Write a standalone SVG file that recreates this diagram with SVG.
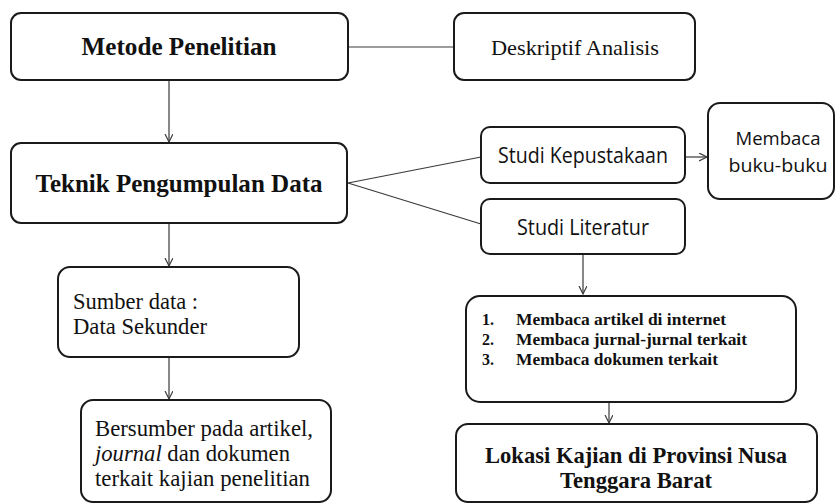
<svg xmlns="http://www.w3.org/2000/svg" width="836" height="504" viewBox="0 0 836 504">
<defs>
<style>
.box{fill:#fff;stroke:#1a1a1a;stroke-width:2}
.ln{fill:none;stroke:#3a3a3a;stroke-width:1.2}
.serif{font-family:"Liberation Serif","Times New Roman",serif;fill:#111}
.b{font-weight:bold}
.sans{font-family:"Open Sans","Noto Sans",sans-serif;fill:#111}
</style>
<marker id="arr" markerWidth="10" markerHeight="10" refX="8" refY="4" orient="auto" markerUnits="userSpaceOnUse">
<path d="M0,0 L8,4 L0,8" fill="none" stroke="#3a3a3a" stroke-width="1.2"/>
</marker>
</defs>
<rect width="836" height="504" fill="#fff"/>
<g id="connectors">
<line class="ln" x1="348" y1="47" x2="455" y2="47"/>
<line class="ln" x1="169" y1="80" x2="169" y2="142" marker-end="url(#arr)"/>
<line class="ln" x1="348" y1="183" x2="481" y2="157"/>
<line class="ln" x1="348" y1="183" x2="481" y2="224"/>
<line class="ln" x1="685" y1="157" x2="707" y2="157" marker-end="url(#arr)"/>
<line class="ln" x1="583" y1="254" x2="583" y2="294" marker-end="url(#arr)"/>
<line class="ln" x1="609" y1="402" x2="609" y2="423" marker-end="url(#arr)"/>
<line class="ln" x1="169" y1="223" x2="169" y2="266" marker-end="url(#arr)"/>
<line class="ln" x1="169" y1="357" x2="169" y2="399" marker-end="url(#arr)"/>
</g>
<g id="metode">
<rect class="box" x="11" y="13" width="337" height="67" rx="10"/>
<text class="serif b" x="179" y="55" font-size="26" text-anchor="middle" textLength="195" lengthAdjust="spacingAndGlyphs">Metode Penelitian</text>
</g>
<g id="deskriptif">
<rect class="box" x="454" y="13" width="241" height="67" rx="10"/>
<text class="serif" x="575" y="55" font-size="22" text-anchor="middle" textLength="168" lengthAdjust="spacingAndGlyphs">Deskriptif Analisis</text>
</g>
<g id="teknik">
<rect class="box" x="11" y="143" width="336" height="80" rx="10"/>
<text class="serif b" x="179" y="192" font-size="26" text-anchor="middle" textLength="287" lengthAdjust="spacingAndGlyphs">Teknik Pengumpulan Data</text>
</g>
<g id="kepustakaan">
<rect class="box" x="481" y="127" width="204" height="56" rx="9"/>
<text class="sans" x="583" y="163" font-size="21" text-anchor="middle" textLength="170" lengthAdjust="spacingAndGlyphs">Studi Kepustakaan</text>
</g>
<g id="membaca">
<rect class="box" x="708" y="103" width="126" height="96" rx="12"/>
<text class="sans" x="778" y="145" font-size="19" text-anchor="middle" textLength="85" lengthAdjust="spacingAndGlyphs">Membaca</text>
<text class="sans" x="778" y="172" font-size="19" text-anchor="middle" textLength="99" lengthAdjust="spacingAndGlyphs">buku-buku</text>
</g>
<g id="literatur">
<rect class="box" x="481" y="199" width="204" height="55" rx="9"/>
<text class="sans" x="583" y="235" font-size="21" text-anchor="middle" textLength="132" lengthAdjust="spacingAndGlyphs">Studi Literatur</text>
</g>
<g id="list">
<rect class="box" x="466" y="296" width="330" height="106" rx="14"/>
<g class="serif b" font-size="16">
<text x="482" y="325">1.</text>
<text x="516" y="325" textLength="210" lengthAdjust="spacingAndGlyphs">Membaca artikel di internet</text>
<text x="482" y="345">2.</text>
<text x="516" y="345" textLength="231" lengthAdjust="spacingAndGlyphs">Membaca jurnal-jurnal terkait</text>
<text x="482" y="365">3.</text>
<text x="516" y="365" textLength="202" lengthAdjust="spacingAndGlyphs">Membaca dokumen terkait</text>
</g>
</g>
<g id="lokasi">
<rect class="box" x="456" y="424" width="361" height="78" rx="12"/>
<text class="serif b" x="636" y="463" font-size="23" text-anchor="middle" textLength="302" lengthAdjust="spacingAndGlyphs">Lokasi Kajian di Provinsi Nusa</text>
<text class="serif b" x="636" y="488" font-size="23" text-anchor="middle" textLength="152" lengthAdjust="spacingAndGlyphs">Tenggara Barat</text>
</g>
<g id="sumber">
<rect class="box" x="58" y="267" width="241" height="90" rx="12"/>
<text class="serif" x="73" y="309" font-size="23" textLength="125" lengthAdjust="spacingAndGlyphs">Sumber data :</text>
<text class="serif" x="73" y="334" font-size="23" textLength="134" lengthAdjust="spacingAndGlyphs">Data Sekunder</text>
</g>
<g id="bersumber">
<rect class="box" x="81" y="400" width="250" height="102" rx="12"/>
<text class="serif" x="95" y="436" font-size="23" textLength="218" lengthAdjust="spacingAndGlyphs">Bersumber pada artikel,</text>
<text class="serif" x="95" y="461" font-size="23" textLength="195" lengthAdjust="spacingAndGlyphs"><tspan font-style="italic">journal</tspan> dan dokumen</text>
<text class="serif" x="95" y="486" font-size="23" textLength="215" lengthAdjust="spacingAndGlyphs">terkait kajian penelitian</text>
</g>
</svg>
